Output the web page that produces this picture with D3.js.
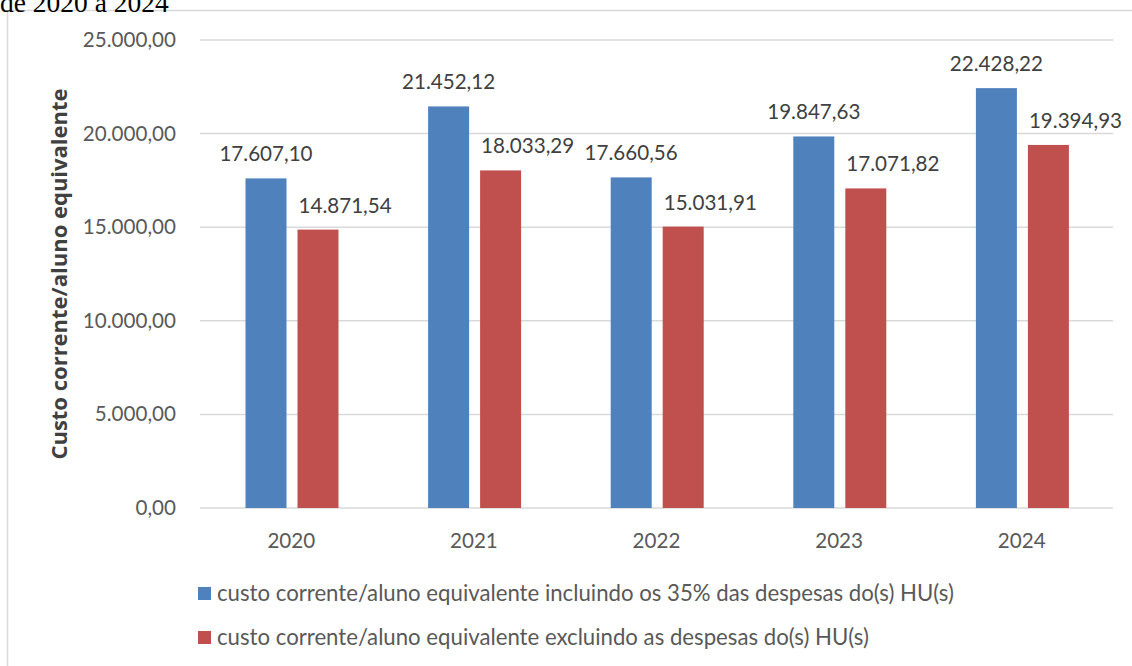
<!DOCTYPE html>
<html><head><meta charset="utf-8">
<script src="https://cdn.jsdelivr.net/npm/d3@7"></script>
<style>
html,body{margin:0;padding:0;background:#fff;}
svg{display:block;}
</style></head>
<body>
<svg id="chart" width="1132" height="666"></svg>
<script>
const years = ["2020", "2021", "2022", "2023", "2024"];
const seriesNames = [
  "custo corrente/aluno equivalente incluindo os 35% das despesas do(s) HU(s)",
  "custo corrente/aluno equivalente excluindo as despesas do(s) HU(s)"
];
const incluindo = [17607.10, 21452.12, 17660.56, 19847.63, 22428.22];
const excluindo = [14871.54, 18033.29, 15031.91, 17071.82, 19394.93];
const yTicks = [0, 5000, 10000, 15000, 20000, 25000];
const colors = ["#4f81bd", "#c0504d"];
const yTitle = "Custo corrente/aluno equivalente";
const headerText = "de 2020 a 2024";

const svg = d3.select("#chart");
const FONT = "Lato, 'Open Sans', sans-serif";
const loc = d3.formatLocale({decimal: ",", thousands: ".", grouping: [3], currency: ["R$", ""]});
const fmt = loc.format(",.2f");

// frame
svg.append("path").attr("d", "M7.5,666 V10.5 H1132").attr("fill", "none")
  .attr("stroke", "#d9d9d9").attr("stroke-width", 1.5);

// header fragment
svg.append("text").attr("x", 0).attr("y", 12).text(headerText)
  .attr("font-family", "'Liberation Serif', 'Times New Roman', serif").attr("font-size", 27.5).attr("fill", "#000");

const x = d3.scaleBand().domain(years).range([200, 1113]).padding(0);
const xs = d3.scaleBand().domain([0, 1]).range([45.5, 138.5]).paddingInner(11 / 52).paddingOuter(0);
const y = d3.scaleLinear().domain([0, 25000]).range([508, 40]);

// gridlines
svg.append("g").selectAll("line").data(yTicks).join("line")
  .attr("x1", 200).attr("x2", 1113)
  .attr("y1", d => y(d)).attr("y2", d => y(d))
  .attr("stroke", "#d9d9d9").attr("stroke-width", 1.5);

// y axis labels
const yAxis = d3.axisLeft(y).tickValues(yTicks).tickFormat(fmt).tickSize(0).tickPadding(0);
const gy = svg.append("g").attr("transform", "translate(176,0)").call(yAxis);
gy.select(".domain").remove();
gy.selectAll("text").attr("font-family", FONT).attr("font-size", 20.6).attr("fill", "#595959");

// x axis labels
const xAxis = d3.axisBottom(x).tickSize(0).tickPadding(0);
const gx = svg.append("g").attr("transform", "translate(0,533)").call(xAxis);
gx.select(".domain").remove();
gx.selectAll("text").attr("font-family", FONT).attr("font-size", 20.6).attr("fill", "#595959").attr("dy", "0.71em");

const data = [incluindo, excluindo];
data.forEach((vals, si) => {
  const g = svg.append("g");
  g.selectAll("rect").data(vals).join("rect")
    .attr("x", (d, i) => x(years[i]) + xs(si))
    .attr("width", xs.bandwidth())
    .attr("y", d => y(d))
    .attr("height", d => y(0) - y(d))
    .attr("fill", colors[si]);
  g.selectAll("text").data(vals).join("text")
    .attr("x", (d, i) => si === 0 ? x(years[i]) + xs(si) + xs.bandwidth() / 2 : x(years[i]) + xs(si) + 1)
    .attr("y", d => y(d) - 17)
    .attr("text-anchor", si === 0 ? "middle" : "start")
    .attr("font-family", FONT).attr("font-size", 20.6).attr("fill", "#404040")
    .text(d => fmt(d));
});

// y title
svg.append("text")
  .attr("transform", `translate(67,${(y(0) + y(25000)) / 2}) rotate(-90)`)
  .attr("text-anchor", "middle")
  .attr("font-family", "'Open Sans', sans-serif").attr("font-size", 22).attr("font-weight", "bold").attr("fill", "#404040")
  .text(yTitle);

// legend
const lg = svg.append("g");
const legY = [601, 645];
seriesNames.forEach((n, i) => {
  lg.append("rect").attr("x", 198).attr("y", legY[i] - 14).attr("width", 13).attr("height", 13).attr("fill", colors[i]);
  lg.append("text").attr("x", 217).attr("y", legY[i]).text(n)
    .attr("font-family", FONT).attr("font-size", 22.2).attr("fill", "#595959");
});
</script>
</body></html>
